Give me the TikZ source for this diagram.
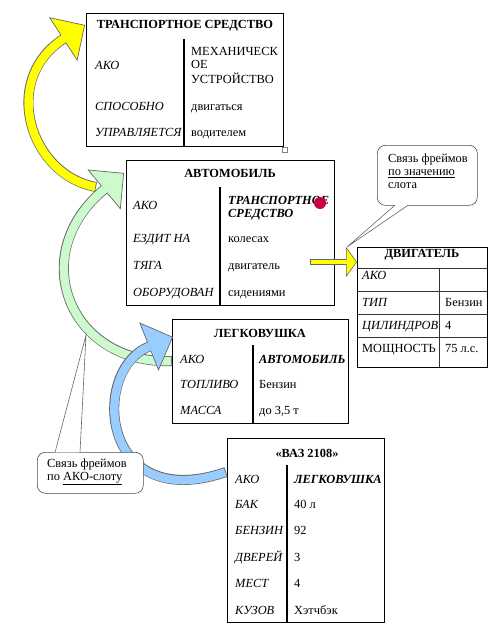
\documentclass[tikz,border=0pt]{standalone}
\usepackage{fontspec}
\setmainfont{Liberation Serif}
\usetikzlibrary{arrows.meta,calc}

\definecolor{akoyellow}{RGB}{255,255,0}
\definecolor{akogreen}{RGB}{204,250,204}
\definecolor{akoblue}{RGB}{153,204,255}
\definecolor{dotred}{RGB}{200,0,60}

\newcommand{\slotfont}{\fontsize{12.4}{13}\selectfont}

\begin{document}
\begin{tikzpicture}[x=1pt, y=-1pt,
    frame/.style={draw, line width=1.1pt, fill=white, inner sep=0pt, anchor=north west},
    divider/.style={line width=1.4pt},
    gridline/.style={line width=0.7pt, black!80},
    head/.style={font=\slotfont\bfseries, inner sep=0pt, anchor=base},
    slot/.style={font=\slotfont\itshape, inner sep=0pt, anchor=base west},
    filler/.style={font=\slotfont, inner sep=0pt, anchor=base west},
    reffiller/.style={font=\slotfont\bfseries\itshape, inner sep=0pt, anchor=base west},
    note/.style={draw=black!70, line width=0.6pt, fill=white, rounded corners=8pt, inner sep=0pt, anchor=north west},
    notetext/.style={font=\slotfont, align=left, inner sep=0pt, anchor=north west},
    notetail/.style={draw=black!60, line width=0.6pt, fill=white},
    akoedge/.style={line width=10pt, draw=black!60, -{Triangle[length=26pt, width=52pt, line width=0.7pt, fill=#1]}},
    akocore/.style={line width=8.4pt, draw=#1, shorten >=25pt, shorten <=0.8pt},
    valedge/.style={line width=6pt, draw=black!60, -{Triangle[length=11pt, width=30pt, line width=0.6pt, fill=akoyellow]}},
    valcore/.style={line width=4.6pt, draw=akoyellow, shorten >=10pt, shorten <=0.7pt}]

    \useasboundingbox (0,0) rectangle (501,634);

    % --- ТРАНСПОРТНОЕ СРЕДСТВО ---
    \node[frame, minimum width=197pt, minimum height=133pt] (ts) at (86,13) {};
    \draw[divider] (184,39) -- (184,146);
    \node[head] (tsHead) at (185,29) {ТРАНСПОРТНОЕ СРЕДСТВО};
    \node[slot] (tsAko) at (95,70) {АКО};
    \node[filler] (tsAkoA) at (191,56) {МЕХАНИЧЕСК};
    \node[filler] (tsAkoB) at (191,69) {ОЕ};
    \node[filler] (tsAkoC) at (191,83) {УСТРОЙСТВО};
    \node[slot] (tsCan) at (95,110) {СПОСОБНО};
    \node[filler] (tsCanV) at (191,110) {двигаться};
    \node[slot] (tsDrv) at (95,136) {УПРАВЛЯЕТСЯ};
    \node[filler] (tsDrvV) at (191,136) {водителем};
    \draw[black!50, line width=0.5pt, fill=white] (282,147) rectangle (287,152);

    % --- АВТОМОБИЛЬ ---
    \node[frame, minimum width=208pt, minimum height=145pt] (avto) at (126,160) {};
    \draw[divider] (220,187) -- (220,305);
    \node[head] (avtoHead) at (230,177) {АВТОМОБИЛЬ};
    \node[slot] (avtoAko) at (133,209) {АКО};
    \node[reffiller] (avtoAkoA) at (228,204) {ТРАНСПОРТНОЕ};
    \node[reffiller] (avtoAkoB) at (228,217) {СРЕДСТВО};
    \node[slot] (avtoRun) at (133,242) {ЕЗДИТ НА};
    \node[filler] (avtoRunV) at (228,242) {колесах};
    \node[slot] (avtoPull) at (133,269) {ТЯГА};
    \node[filler] (avtoPullV) at (228,269) {двигатель};
    \node[slot] (avtoEq) at (133,296) {ОБОРУДОВАН};
    \node[filler] (avtoEqV) at (228,296) {сидениями};
    \fill[dotred] (320,203) circle (6);

    % --- ДВИГАТЕЛЬ ---
    \node[frame, line width=0.8pt, minimum width=130pt, minimum height=120pt] (dvig) at (357,247) {};
    \draw[gridline] (357,268) -- (487,268) (357,291) -- (487,291)
        (357,314) -- (487,314) (357,337) -- (487,337) (439,268) -- (439,367);
    \node[head] (dvigHead) at (422,257) {ДВИГАТЕЛЬ};
    \node[slot] (dvigAko) at (362,279) {АКО};
    \node[slot] (dvigType) at (362,306) {ТИП};
    \node[filler] (dvigTypeV) at (445,306) {Бензин};
    \node[slot] (dvigCyl) at (362,329) {ЦИЛИНДРОВ};
    \node[filler] (dvigCylV) at (445,329) {4};
    \node[filler] (dvigPow) at (362,352) {МОЩНОСТЬ};
    \node[filler] (dvigPowV) at (445,352) {75 л.с.};

    % --- ЛЕГКОВУШКА ---
    \node[frame, minimum width=176pt, minimum height=104pt] (legk) at (172,319) {};
    \draw[divider] (253,345) -- (253,423);
    \node[head] (legkHead) at (260,337) {ЛЕГКОВУШКА};
    \node[slot] (legkAko) at (180,363) {АКО};
    \node[reffiller] (legkAkoV) at (259,363) {АВТОМОБИЛЬ};
    \node[slot] (legkFuel) at (180,388) {ТОПЛИВО};
    \node[filler] (legkFuelV) at (259,388) {Бензин};
    \node[slot] (legkMass) at (180,414) {МАССА};
    \node[filler] (legkMassV) at (259,414) {до 3,5 т};

    % --- «ВАЗ 2108» ---
    \node[frame, minimum width=157pt, minimum height=184pt] (vaz) at (227,438) {};
    \draw[divider] (287,465) -- (287,622);
    \node[head] (vazHead) at (307,457) {«ВАЗ 2108»};
    \node[slot] (vazAko) at (235,483) {АКО};
    \node[reffiller] (vazAkoV) at (294,483) {ЛЕГКОВУШКА};
    \node[slot] (vazTank) at (235,508) {БАК};
    \node[filler] (vazTankV) at (294,508) {40 л};
    \node[slot] (vazFuel) at (235,534) {БЕНЗИН};
    \node[filler] (vazFuelV) at (294,534) {92};
    \node[slot] (vazDoor) at (235,561) {ДВЕРЕЙ};
    \node[filler] (vazDoorV) at (294,561) {3};
    \node[slot] (vazSeat) at (235,587) {МЕСТ};
    \node[filler] (vazSeatV) at (294,587) {4};
    \node[slot] (vazBody) at (235,614) {КУЗОВ};
    \node[filler] (vazBodyV) at (294,614) {Хэтчбэк};

    % --- AKO links ---
    \coordinate (avtoTail) at (96,187);
    \coordinate (legkTail) at ($(legk.north west)+(0,42)$);
    \coordinate (vazTail) at ($(vaz.north west)+(-1,34)$);
    \coordinate (engTail) at (310,262);

    \draw[akoedge=akogreen] (legkTail) .. controls (70,365) and (25,255) .. ($(avto.north west)+(-2,13)$);
    \draw[akocore=akogreen] (legkTail) .. controls (70,365) and (25,255) .. ($(avto.north west)+(-2,13)$);

    \draw[akoedge=akoblue] (vazTail) .. controls (100,515) and (90,370) .. ($(legk.north west)+(1,18)$);
    \draw[akocore=akoblue] (vazTail) .. controls (100,515) and (90,370) .. ($(legk.north west)+(1,18)$);

    \draw[akoedge=akoyellow] (avtoTail) .. controls (30,175) and (0,80) .. ($(ts.north west)+(-1,12)$);
    \draw[akocore=akoyellow] (avtoTail) .. controls (30,175) and (0,80) .. ($(ts.north west)+(-1,12)$);

    % --- slot value link ---
    \draw[valedge] (engTail) -- (engTail -| dvig.west);
    \draw[valcore] (engTail) -- (engTail -| dvig.west);

    % --- notes ---
    \coordinate (valNoteTip) at ($(dvig.north west)+(-10,0)$);
    \node[note, minimum width=100pt, minimum height=60pt] (valNote) at (377,145) {};
    \filldraw[notetail] ([shift={(18pt,0.4pt)}]valNote.south west) -- (valNoteTip)
        -- ([shift={(31pt,0.4pt)}]valNote.south west);
    \node[notetext] (valNoteText) at (388,153.5) {Связь фреймов\\\underline{по значению}\\слота};

    \coordinate (akoNoteTip) at (86,335);
    \node[note, minimum width=106pt, minimum height=41pt] (akoNote) at (37,452) {};
    \filldraw[notetail] ([shift={(18pt,-0.4pt)}]akoNote.north west) -- (akoNoteTip)
        -- ([shift={(43pt,-0.4pt)}]akoNote.north west);
    \node[notetext] (akoNoteText) at (47,458.5) {Связь фреймов\\по \underline{АКО-слоту}};

\end{tikzpicture}
\end{document}
